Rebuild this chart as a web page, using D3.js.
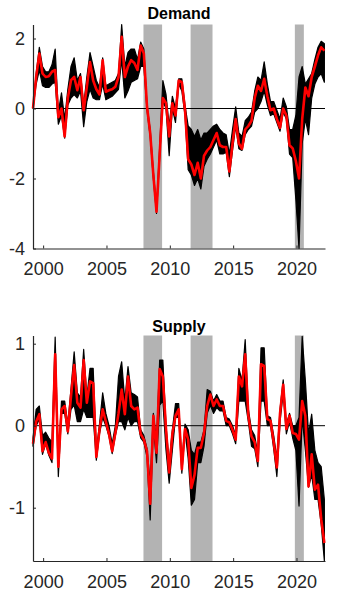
<!DOCTYPE html>
<html>
<head>
<meta charset="utf-8">
<script src="https://cdn.jsdelivr.net/npm/d3@7"></script>
<style>
  html, body { margin: 0; padding: 0; background: #ffffff; }
  svg { display: block; }
</style>
</head>
<body>
<svg id="chart" width="340" height="600"></svg>
<script>
// ---------------- DATA ----------------
// quarterly observations, first quarter plotted at 1999.2
const firstQuarter = 1999.2;
const quarterStep = 0.25;

const recessionStart = [2007.92, 2011.64, 2019.87];
const recessionEnd   = [2009.39, 2013.37, 2020.58];

const xTicks = [2000, 2005, 2010, 2015, 2020];
const demandTicks = [-4, -2, 0, 2];
const supplyTicks = [-1, 0, 1];

const demandMedian = [
  0, 0.9, 1.57, 1.0, 0.9, 0.92, 1.05, 1.1, -0.25, 0.0,
  -0.8, 0.3, 0.81, 0.9, 0.52, 0.9, -0.05, 0.62, 1.33, 0.8,
  0.55, 0.4, 1.38, 0.48, 0.52, 0.55, 0.62, 0.9, 2.05, 0.9,
  1.2, 1.38, 1.3, 1.1, 1.8, 1.57, 0.05, -0.7, -1.9, -2.95,
  -1.3, 0.3, 0.15, -0.8, 0.15, -0.2, 0.8, 0.75, -0.05, -1.45,
  -1.6, -1.9, -1.55, -2.0, -1.35, -1.2, -1.1, -0.9, -0.7, -1.05,
  -1.1, -1.1, -1.8, -1.0, -0.3, -1.0, -1.15, -0.6, -0.5, -0.35,
  0.3, 0.65, 0.5, 0.85, 0.35, -0.05, 0.0, -0.3, -0.55, 0.0,
  -0.2, -1.05, -1.14, -1.5, -2.0, -0.3, 0.6, 0.35, 0.9, 1.2,
  1.52, 1.75, 1.65
];
const demandLower = [
  0, 0.7, 1.1, 0.65, 0.6, 0.6, 0.7, 0.75, -0.45, -0.2,
  -0.85, 0.1, 0.3, 0.4, 0.3, 0.5, -0.52, 0.2, 0.55, 0.3,
  0.25, 0.25, 0.7, 0.25, 0.3, 0.35, 0.45, 0.55, 1.4, 0.3,
  0.5, 0.75, 0.8, 0.85, 1.2, 1.2, -0.05, -0.8, -2.0, -3.0,
  -1.4, 0.2, 0.0, -1.35, 0.0, -0.4, 0.7, 0.5, -0.2, -1.75,
  -1.9, -2.2, -2.0, -2.3, -1.65, -1.45, -1.3, -1.1, -0.9, -1.3,
  -1.3, -1.25, -1.95, -1.2, -0.5, -1.15, -1.2, -0.75, -0.6, -0.5,
  -0.1, 0.0, 0.2, 0.5, 0.1, -0.2, -0.15, -0.4, -0.65, -0.1,
  -0.3, -1.3, -1.4, -2.6, -4.0, -1.0, -0.3, -0.75, 0.3, 0.7,
  0.9, 1.0, 0.75
];
const demandUpper = [
  0, 1.0, 1.75, 1.2, 1.05, 1.05, 1.25, 1.7, -0.1, 0.45,
  -0.3, 0.55, 1.2, 1.45, 0.8, 1.0, 0.1, 0.9, 1.6, 1.2,
  0.8, 0.6, 1.45, 0.65, 0.7, 0.75, 0.8, 1.0, 2.4, 1.2,
  1.6, 1.7, 1.7, 1.4, 1.9, 1.7, 0.1, -0.6, -1.8, -2.85,
  -1.1, 0.8, 0.4, -0.5, 0.35, 0.0, 0.85, 0.85, 0.1, -0.5,
  -0.6, -0.8, -0.6, -0.9, -0.7, -0.7, -0.6, -0.5, -0.45, -0.6,
  -0.7, -0.75, -1.3, -0.6, 0.05, -0.7, -0.8, -0.35, -0.25, -0.1,
  0.5, 0.9, 0.8, 1.33, 0.7, 0.2, 0.2, -0.05, -0.3, 0.3,
  0.05, -0.6, -0.6, -0.2, 0.9, 1.2, 0.7, 0.85, 1.0, 1.4,
  1.75, 1.92, 1.85
];

const supplyMedian = [
  -0.22, 0.05, 0.14, -0.31, -0.2, -0.33, -0.4, 0.87, -0.5, 0.2,
  0.24, -0.07, 0.36, 0.74, 0.28, 0.22, 0.8, 0.28, 0.54, 0.52,
  -0.38, -0.05, 0.2, 0.05, -0.1, -0.31, -0.09, 0.15, 0.44, 0.14,
  0.6, 0.24, 0.2, 0.22, -0.1, -0.17, -0.31, -0.95, 0.12, -0.33,
  0.69, 0.6, -0.04, -0.57, -0.1, 0.12, 0.2, -0.53, -0.04, -0.17,
  -0.76, -0.6, -0.27, -0.27, -0.09, 0.24, 0.38, 0.24, 0.32, 0.24,
  0.24, 0.06, 0.04, -0.05, -0.17, 0.6, 0.48, 0.87, 0.12, -0.13,
  -0.2, -0.43, 0.75, 0.73, 0.08, 0.06, -0.2, -0.51, 0.15, 0.5,
  -0.04, 0.12, -0.09, -0.1, -0.17, 0.3, 0.12, -0.74, -0.35, -0.78,
  -0.72, -1.14, -1.43
];
const supplyLower = [
  -0.25, 0.0, 0.08, -0.35, -0.22, -0.36, -0.45, 0.78, -0.62, 0.15,
  0.15, -0.1, 0.2, 0.25, 0.05, 0.05, 0.2, 0.1, 0.1, 0.1,
  -0.42, -0.1, 0.1, 0.0, -0.13, -0.34, -0.12, 0.05, 0.05, -0.05,
  0.1, 0.0, 0.05, 0.05, -0.15, -0.2, -0.38, -1.15, 0.0, -0.45,
  0.25, 0.3, -0.3, -0.7, -0.3, 0.1, 0.1, -0.58, -0.06, -0.4,
  -0.97, -0.9, -0.45, -0.45, -0.25, 0.15, 0.25, 0.15, 0.22, 0.18,
  0.18, 0.0, 0.0, -0.1, -0.22, 0.3, 0.3, 0.3, 0.05, -0.25,
  -0.28, -0.5, 0.3, 0.3, 0.0, 0.0, -0.28, -0.62, 0.05, 0.4,
  -0.1, 0.05, -0.15, -0.3, -0.98, 0.1, -0.3, -0.75, -0.6, -0.9,
  -0.9, -1.2, -1.65
];
const supplyUpper = [
  -0.15, 0.2, 0.24, -0.12, -0.08, -0.15, -0.2, 1.08, -0.42, 0.3,
  0.3, 0.02, 0.45, 0.9, 0.4, 0.35, 0.93, 0.35, 0.7, 0.7,
  -0.3, 0.02, 0.4, 0.15, 0.0, -0.22, 0.0, 0.6, 0.78, 0.3,
  0.72, 0.4, 0.38, 0.35, -0.05, -0.12, -0.28, -0.7, 0.15, -0.2,
  0.8, 0.8, 0.0, -0.45, -0.05, 0.27, 0.27, -0.45, 0.02, -0.05,
  -0.3, -0.35, -0.2, -0.2, -0.05, 0.44, 0.42, 0.3, 0.38, 0.3,
  0.3, 0.1, 0.08, 0.0, -0.12, 0.7, 0.55, 1.05, 0.2, -0.05,
  -0.12, -0.35, 0.95, 0.95, 0.12, 0.1, -0.12, -0.4, 0.2, 0.56,
  0.02, 0.15, 0.0, 0.0, 0.1, 1.09, 0.55, -0.1, 0.14, -0.3,
  -0.45, -0.5, -0.9
];

// ---------------- CHART ----------------
const svg = d3.select("#chart");
const FONT = "'Liberation Sans', Arial, Helvetica, sans-serif";
const AXIS_COLOR = "#262626";

const x = d3.scaleLinear().domain([1999.2, 2022.25]).range([33, 325]);

function panel(cfg) {
  const y = d3.scaleLinear().domain(cfg.yDomain).range(cfg.yRange);
  const g = svg.append("g");
  const dates = cfg.median.map((_, i) => firstQuarter + i * quarterStep);

  // recession bands
  g.selectAll("rect.rec")
    .data(recessionStart.map((s, i) => ({ s, e: recessionEnd[i] })))
    .join("rect")
    .attr("class", "rec")
    .attr("x", d => x(d.s))
    .attr("width", d => x(d.e) - x(d.s))
    .attr("y", y(cfg.yDomain[1]))
    .attr("height", y(cfg.yDomain[0]) - y(cfg.yDomain[1]))
    .attr("fill", "#b3b3b3");

  // bundle of draws (envelope)
  const rows = dates.map((d, i) => ({ d, lo: cfg.lower[i], hi: cfg.upper[i], m: cfg.median[i] }));
  const area = d3.area()
    .x(r => x(r.d))
    .y0(r => y(r.lo))
    .y1(r => y(r.hi));
  g.append("path")
    .datum(rows)
    .attr("d", area)
    .attr("fill", "#000")
    .attr("stroke", "#000")
    .attr("stroke-width", 1.2)
    .attr("stroke-linejoin", "round");

  // zero line
  g.append("line")
    .attr("x1", x.range()[0]).attr("x2", x.range()[1])
    .attr("y1", y(0)).attr("y2", y(0))
    .attr("stroke", "#000").attr("stroke-width", 1);

  // median (red)
  const line = d3.line().x(r => x(r.d)).y(r => y(r.m));
  g.append("path")
    .datum(rows)
    .attr("d", line)
    .attr("fill", "none")
    .attr("stroke", "#ff0000")
    .attr("stroke-width", 2.6)
    .attr("stroke-linejoin", "round");

  // axes
  const yAxis = d3.axisLeft(y)
    .tickValues(cfg.yTicks)
    .tickFormat(d => String(d))
    .tickSizeInner(-3)
    .tickSizeOuter(0)
    .tickPadding(8);
  const ya = g.append("g").attr("transform", `translate(${x.range()[0]},0)`).call(yAxis);

  const xAxis = d3.axisBottom(x)
    .tickValues(xTicks)
    .tickFormat(d => String(d))
    .tickSizeInner(-3)
    .tickSizeOuter(0)
    .tickPadding(14);
  const xa = g.append("g").attr("transform", `translate(0,${y(cfg.yDomain[0])})`).call(xAxis);

  [ya, xa].forEach(a => {
    a.select(".domain").attr("stroke", AXIS_COLOR).attr("stroke-width", 1.2);
    a.selectAll(".tick line").attr("stroke", AXIS_COLOR);
    a.selectAll(".tick text")
      .attr("fill", AXIS_COLOR)
      .style("font-family", FONT)
      .style("font-size", "18px");
  });

  // title
  g.append("text")
    .attr("x", (x.range()[0] + x.range()[1]) / 2)
    .attr("y", cfg.titleY)
    .attr("text-anchor", "middle")
    .style("font-family", FONT)
    .style("font-size", "16px")
    .style("font-weight", "bold")
    .attr("fill", "#000")
    .text(cfg.title);
}

panel({
  title: "Demand", titleY: 19,
  yDomain: [-4, 2.4], yRange: [248.5, 24.5],
  yTicks: demandTicks,
  median: demandMedian, lower: demandLower, upper: demandUpper
});

panel({
  title: "Supply", titleY: 332,
  yDomain: [-1.65, 1.1], yRange: [561, 335.5],
  yTicks: supplyTicks,
  median: supplyMedian, lower: supplyLower, upper: supplyUpper
});
</script>
</body>
</html>
